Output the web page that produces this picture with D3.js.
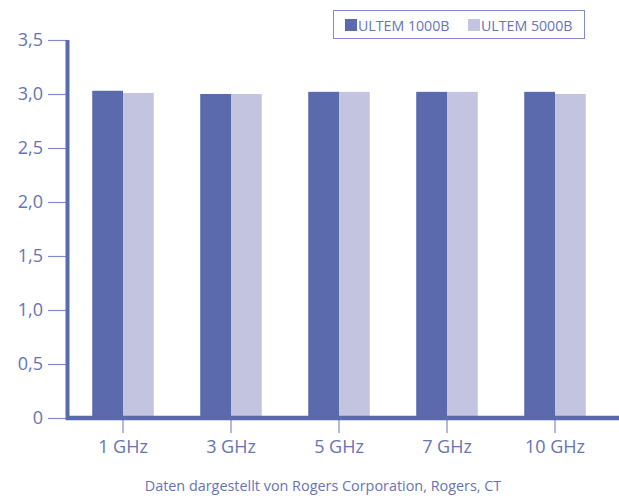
<!DOCTYPE html>
<html><head><meta charset="utf-8">
<script src="https://cdn.jsdelivr.net/npm/d3@7"></script>
<style>body{margin:0;background:#fff;} svg{display:block;font-family:"Open Sans",sans-serif;}</style>
</head><body>
<script>
const categories = ["1 GHz", "3 GHz", "5 GHz", "7 GHz", "10 GHz"];
const seriesNames = ["ULTEM 1000B", "ULTEM 5000B"];
const ultem1000B = [3.03, 3.00, 3.02, 3.02, 3.02];
const ultem5000B = [3.01, 3.00, 3.02, 3.02, 3.00];
const yTicks = [0, 0.5, 1.0, 1.5, 2.0, 2.5, 3.0, 3.5];
const caption = "Daten dargestellt von Rogers Corporation, Rogers, CT";

const W = 619, H = 498;
const dark = "#5b6aad", light = "#c3c4e0", textCol = "#6674b6", tickCol = "#7f8cc8";
const svg = d3.select("body").append("svg").attr("width", W).attr("height", H);

const y = d3.scaleLinear().domain([0, 3.5]).range([418, 40]);
const x0 = d3.scaleBand().domain(categories).range([69, 609]).paddingInner(0.43).paddingOuter(0.215);
const x1 = d3.scaleBand().domain(seriesNames).range([0, x0.bandwidth()]);
const color = d3.scaleOrdinal().domain(seriesNames).range([dark, light]);
const values = [ultem1000B, ultem5000B];

// bars
const g = svg.append("g");
categories.forEach((c, i) => {
  seriesNames.forEach((s, j) => {
    g.append("rect")
      .attr("x", x0(c) + x1(s))
      .attr("y", y(values[j][i]))
      .attr("width", x1.bandwidth())
      .attr("height", y(0) - y(values[j][i]))
      .attr("fill", color(s));
  });
});

// y axis
const fmt = v => v === 0 ? "0" : d3.format(".1f")(v).replace(".", ",");
const yAxis = svg.append("g").attr("transform", "translate(67,0)")
  .call(d3.axisLeft(y).tickValues(yTicks).tickFormat(fmt).tickSize(19).tickPadding(5));
yAxis.select(".domain").remove();
yAxis.selectAll(".tick line").attr("stroke", tickCol).attr("stroke-width", 1.2);
yAxis.selectAll(".tick text").attr("fill", textCol).style("font-size", "18px").style("font-family", "'Open Sans',sans-serif");
svg.append("line").attr("x1", 67.5).attr("x2", 67.5).attr("y1", y(3.5)).attr("y2", y(0) + 2)
  .attr("stroke", dark).attr("stroke-width", 4);

// x axis
const xAxis = svg.append("g").attr("transform", "translate(0,418)")
  .call(d3.axisBottom(x0).tickSize(15).tickPadding(7));
xAxis.select(".domain").remove();
xAxis.selectAll(".tick line").attr("stroke", tickCol).attr("stroke-width", 1.2);
xAxis.selectAll(".tick text").attr("fill", textCol).style("font-size", "18px").style("font-family", "'Open Sans',sans-serif");
svg.append("line").attr("x1", 66).attr("x2", W).attr("y1", 418).attr("y2", 418)
  .attr("stroke", dark).attr("stroke-width", 4.5);

// legend
svg.append("rect").attr("x", 333.5).attr("y", 10.5).attr("width", 251).attr("height", 28)
  .attr("fill", "#fff").attr("stroke", tickCol).attr("stroke-width", 1);
const legX = [345, 468];
seriesNames.forEach((s, j) => {
  svg.append("rect").attr("x", legX[j]).attr("y", 19).attr("width", 12).attr("height", 12).attr("fill", color(s));
  svg.append("text").attr("x", legX[j] + 13).attr("y", 30.5).text(s)
    .attr("fill", textCol).style("font-size", "14.2px");
});

// caption
svg.append("text").attr("x", 323).attr("y", 491).attr("text-anchor", "middle").text(caption)
  .attr("fill", textCol).style("font-size", "14.4px");
</script>
</body></html>
